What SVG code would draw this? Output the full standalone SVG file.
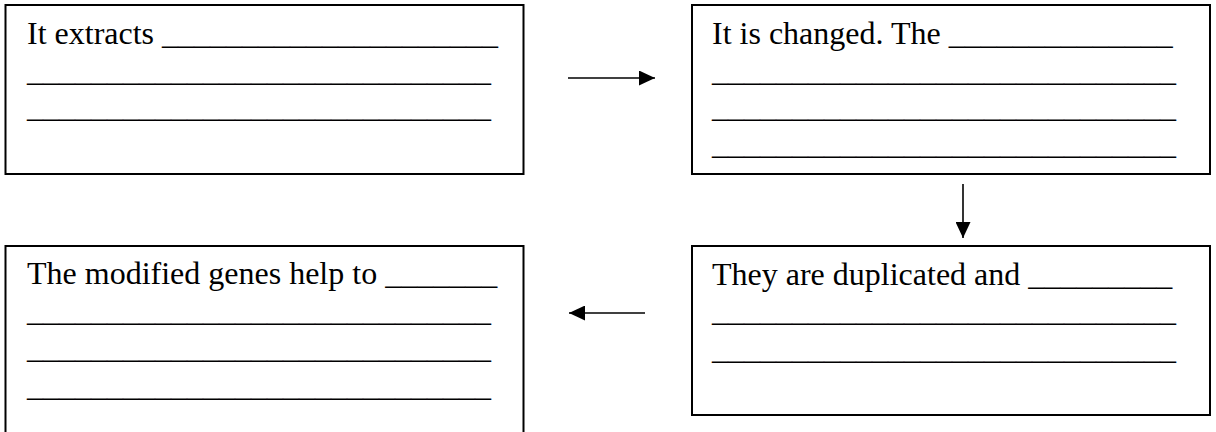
<svg xmlns="http://www.w3.org/2000/svg" width="1216" height="432" viewBox="0 0 1216 432">
<style>
.box{fill:#fff;stroke:#000;stroke-width:2}
.t{font-family:"Liberation Serif","Times New Roman",serif;font-size:32px;fill:#000}
.c{stroke:#000;stroke-width:1.6;fill:none}
</style>
<defs>
<marker id="ah" markerWidth="16" markerHeight="15" refX="16" refY="7.5" orient="auto" markerUnits="userSpaceOnUse">
<path d="M0,0 L16,7.5 L0,15 Z" fill="#000"/>
</marker>
</defs>
<rect width="1216" height="432" fill="#fff"/>
<g id="node-extracts">
<rect class="box" x="5.5" y="5" width="518" height="169"/>
<text class="t" x="27" y="44">It extracts _____________________</text>
<text class="t" x="27" y="80.5">_____________________________</text>
<text class="t" x="27" y="117">_____________________________</text>
</g>
<g id="node-changed">
<rect class="box" x="692" y="5" width="518" height="169"/>
<text class="t" x="712" y="44">It is changed. The ______________</text>
<text class="t" x="712" y="80.5">_____________________________</text>
<text class="t" x="712" y="117">_____________________________</text>
<text class="t" x="712" y="153.5">_____________________________</text>
</g>
<g id="node-duplicated">
<rect class="box" x="692" y="246" width="518" height="169"/>
<text class="t" x="712" y="285">They are duplicated and _________</text>
<text class="t" x="712" y="321">_____________________________</text>
<text class="t" x="712" y="358.5">_____________________________</text>
</g>
<g id="node-modified">
<rect class="box" x="5.5" y="246" width="518" height="200"/>
<text class="t" x="27" y="284">The modified genes help to _______</text>
<text class="t" x="27" y="320.5">_____________________________</text>
<text class="t" x="27" y="358">_____________________________</text>
<text class="t" x="27" y="396">_____________________________</text>
</g>
<g id="connectors">
<line class="c" x1="568" y1="78" x2="655" y2="78" marker-end="url(#ah)"/>
<line class="c" x1="963" y1="184" x2="963" y2="238" marker-end="url(#ah)"/>
<line class="c" x1="645" y1="313" x2="569" y2="313" marker-end="url(#ah)"/>
</g>
</svg>
